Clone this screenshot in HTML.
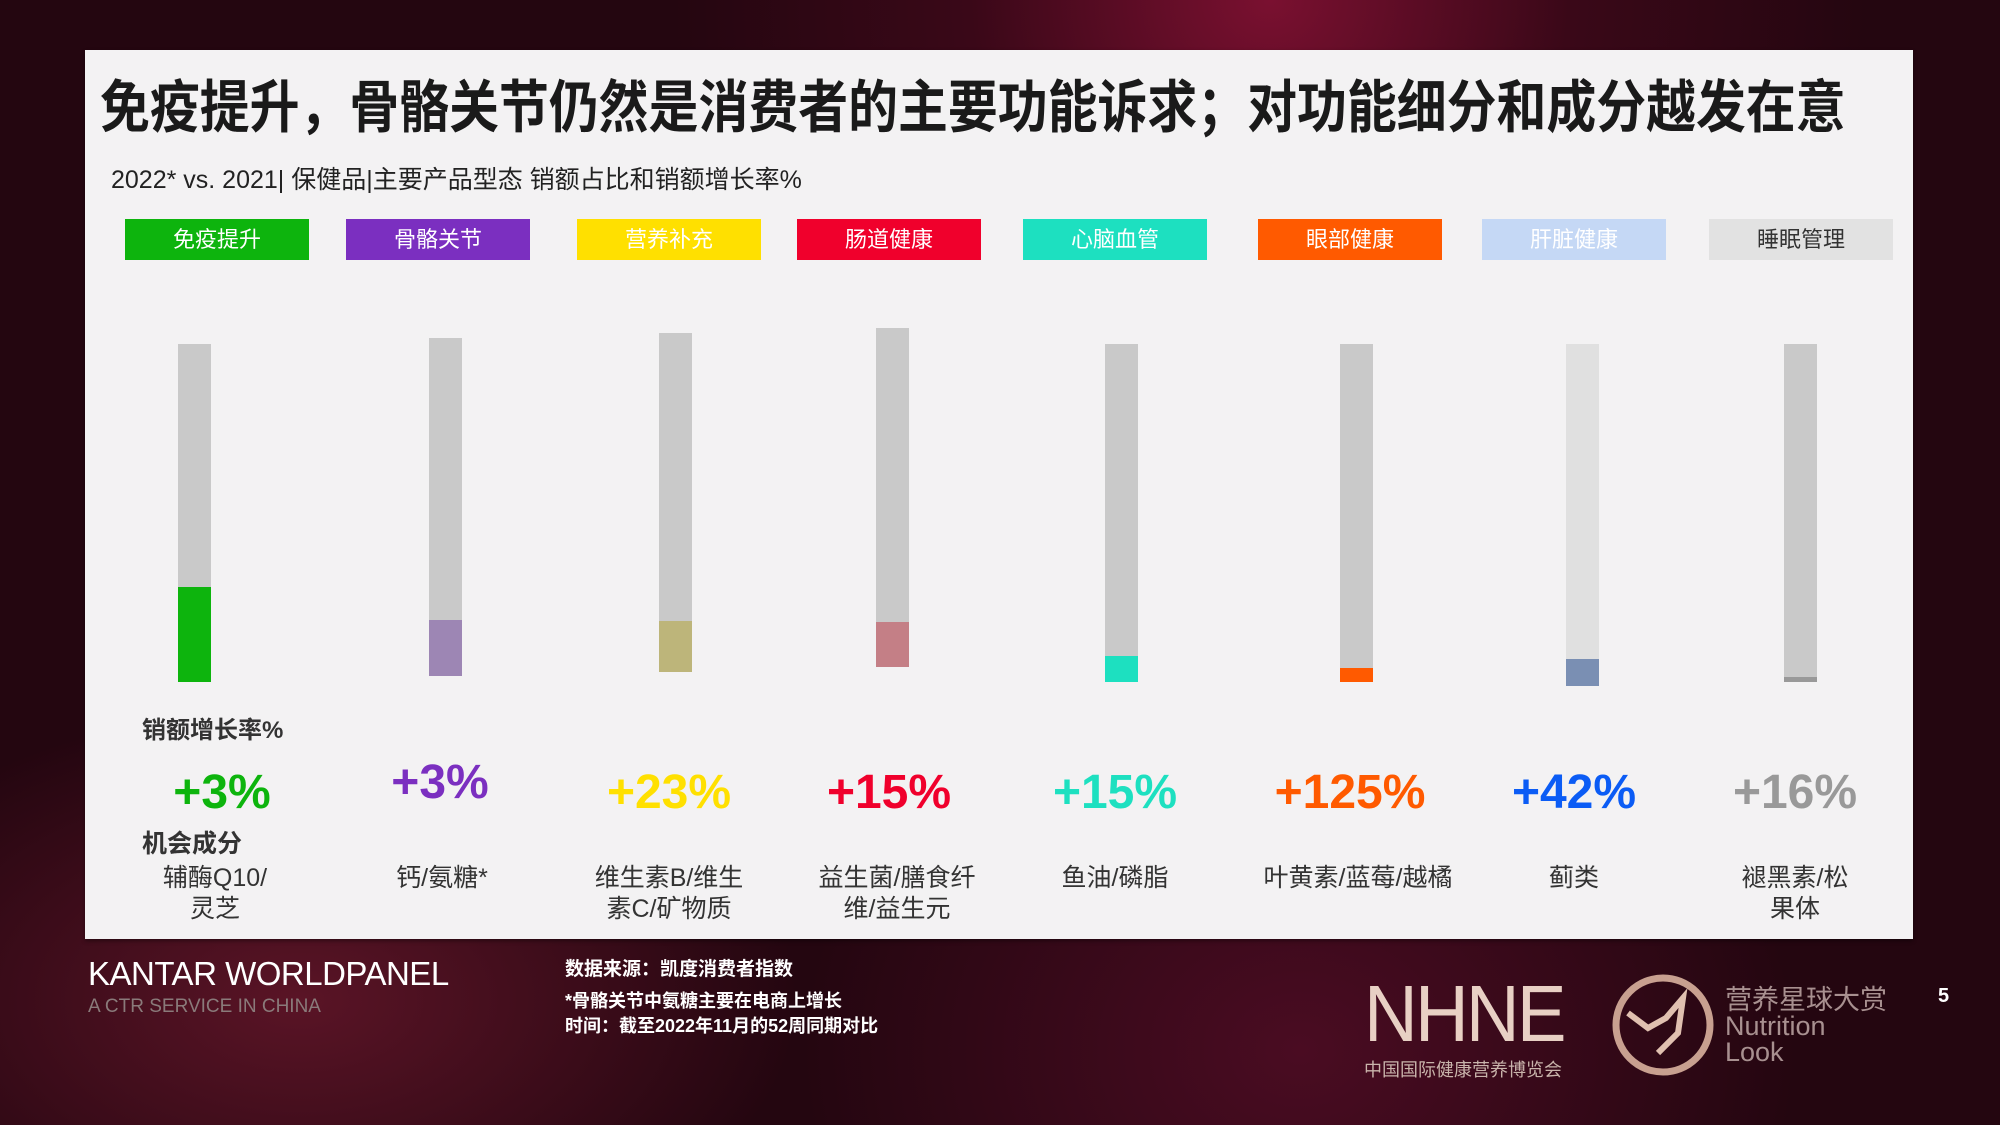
<!DOCTYPE html>
<html><head><meta charset="utf-8"><style>
*{margin:0;padding:0;box-sizing:border-box}
body{width:2000px;height:1125px;overflow:hidden;position:relative;font-family:"Liberation Sans","Noto Sans CJK SC",sans-serif;
background:radial-gradient(ellipse at 1270px 0px,#7a1030 0,#3a0818 300px,transparent 600px),radial-gradient(ellipse at 300px 1000px,#5a1426 0,transparent 500px),radial-gradient(ellipse at 1300px 1050px,#4a0c22 0,transparent 500px),#240610}
.panel{position:absolute;left:85px;top:50px;width:1828px;height:889px;background:#f3f2f3;box-shadow:0 2px 4px rgba(0,0,0,.4)}
.abs{position:absolute}
.title{left:100px;top:62px;font-size:57px;font-weight:bold;color:#1a1a1a;white-space:nowrap;transform:scaleX(0.875);transform-origin:left top}
.sub{left:111px;top:160px;font-size:25px;color:#222;white-space:nowrap}
.cat{position:absolute;top:219px;width:184px;height:41px;color:#fff;font-size:22px;text-align:center;line-height:41px}
.bar{position:absolute;width:33px;background:#c9c9c9}
.pct{position:absolute;font-size:48px;font-weight:bold;text-align:center;width:240px;top:765px}
.ing{position:absolute;font-size:25px;color:#333;text-align:center;width:240px;top:863px;line-height:31px}
.w{color:#fff}
</style></head><body>
<div class="panel"></div>
<div class="abs title">免疫提升，骨骼关节仍然是消费者的主要功能诉求；对功能细分和成分越发在意</div>
<div class="abs sub">2022* vs. 2021| 保健品|主要产品型态 销额占比和销额增长率%</div>

<div class="cat" style="left:125px;background:#0db40d">免疫提升</div>
<div class="cat" style="left:346px;background:#7b2fc0">骨骼关节</div>
<div class="cat" style="left:577px;background:#ffe000">营养补充</div>
<div class="cat" style="left:797px;background:#f0002c">肠道健康</div>
<div class="cat" style="left:1023px;background:#1de0c0">心脑血管</div>
<div class="cat" style="left:1258px;background:#ff5a00">眼部健康</div>
<div class="cat" style="left:1482px;background:#c5d8f5">肝脏健康</div>
<div class="cat" style="left:1709px;background:#e2e2e2;color:#333">睡眠管理</div>

<div class="bar" style="left:178px;top:344px;height:338px"></div><div class="bar" style="left:178px;top:587px;height:95px;background:#0db40d"></div>
<div class="bar" style="left:429px;top:338px;height:338px"></div><div class="bar" style="left:429px;top:620px;height:56px;background:#9d86b4"></div>
<div class="bar" style="left:659px;top:333px;height:339px"></div><div class="bar" style="left:659px;top:621px;height:51px;background:#bdb57a"></div>
<div class="bar" style="left:876px;top:328px;height:339px"></div><div class="bar" style="left:876px;top:622px;height:45px;background:#c47f86"></div>
<div class="bar" style="left:1105px;top:344px;height:338px"></div><div class="bar" style="left:1105px;top:656px;height:26px;background:#1de0c0"></div>
<div class="bar" style="left:1340px;top:344px;height:338px"></div><div class="bar" style="left:1340px;top:668px;height:14px;background:#ff5a00"></div>
<div class="bar" style="left:1566px;top:344px;height:342px;background:#e0e0e0"></div><div class="bar" style="left:1566px;top:659px;height:27px;background:#7a8fb3"></div>
<div class="bar" style="left:1784px;top:344px;height:338px"></div><div class="bar" style="left:1784px;top:677px;height:5px;background:#999"></div>

<div class="abs" style="left:142px;top:710px;font-size:24px;font-weight:bold;color:#333">销额增长率%</div>
<div class="pct" style="left:102px;color:#0db40d">+3%</div>
<div class="pct" style="left:320px;top:755px;color:#7b2fc0">+3%</div>
<div class="pct" style="left:549px;color:#ffe000">+23%</div>
<div class="pct" style="left:769px;color:#f0002c">+15%</div>
<div class="pct" style="left:995px;color:#1de0c0">+15%</div>
<div class="pct" style="left:1230px;color:#ff5a00">+125%</div>
<div class="pct" style="left:1454px;color:#0b5cf5">+42%</div>
<div class="pct" style="left:1675px;color:#999">+16%</div>
<div class="abs" style="left:142px;top:824px;font-size:25px;font-weight:bold;color:#333">机会成分</div>
<div class="ing" style="left:95px">辅酶Q10/<br>灵芝</div>
<div class="ing" style="left:322px">钙/氨糖*</div>
<div class="ing" style="left:549px">维生素B/维生<br>素C/矿物质</div>
<div class="ing" style="left:777px">益生菌/膳食纤<br>维/益生元</div>
<div class="ing" style="left:995px">鱼油/磷脂</div>
<div class="ing" style="left:1238px">叶黄素/蓝莓/越橘</div>
<div class="ing" style="left:1454px">蓟类</div>
<div class="ing" style="left:1675px">褪黑素/松<br>果体</div>

<div class="abs w" style="left:88px;top:955px;font-size:33px;letter-spacing:-0.5px">KANTAR WORLDPANEL</div>
<div class="abs" style="left:88px;top:996px;font-size:19px;color:#8a7a7a">A CTR SERVICE IN CHINA</div>
<div class="abs w" style="left:565px;top:954px;font-size:19px;font-weight:bold">数据来源：凯度消费者指数</div>
<div class="abs w" style="left:565px;top:989px;font-size:18px;font-weight:bold;line-height:25px">*骨骼关节中氨糖主要在电商上增长<br>时间：截至2022年11月的52周同期对比</div>

<div class="abs" style="left:1364px;top:968px;font-size:80px;color:#e8d0c4;letter-spacing:-3px;transform:scaleX(0.93);transform-origin:left">NHNE</div>
<div class="abs" style="left:1364px;top:1056px;font-size:18px;color:#c9b4ab">中国国际健康营养博览会</div>
<svg class="abs" style="left:1608px;top:973px" width="110" height="105"><circle cx="55" cy="52" r="47" fill="none" stroke="#c8a090" stroke-width="7"/><polyline points="20,40 40,55 58,45 75,25 70,60 50,80" fill="none" stroke="#e0c0b0" stroke-width="6"/></svg>
<div class="abs" style="left:1725px;top:987px;font-size:27px;color:#a89090;line-height:26px">营养星球大赏<br>Nutrition<br>Look</div>
<div class="abs w" style="left:1938px;top:985px;font-size:20px;font-weight:bold">5</div>
</body></html>
